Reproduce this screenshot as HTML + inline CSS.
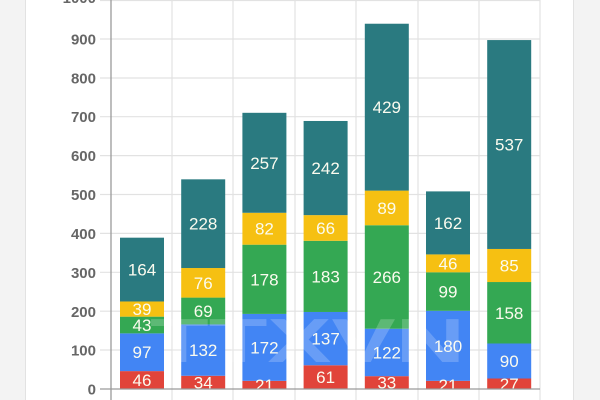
<!DOCTYPE html>
<html><head><meta charset="utf-8"><style>
html,body{margin:0;padding:0;width:600px;height:400px;overflow:hidden;background:#fff}
svg{display:block}
</style></head><body>
<svg width="600" height="400" viewBox="0 0 600 400" xmlns="http://www.w3.org/2000/svg" font-family="Liberation Sans, Arial, sans-serif">
<rect x="0" y="0" width="600" height="400" fill="#ffffff"/>
<rect x="0" y="0" width="25" height="400" fill="#f3f3f3"/>
<rect x="25" y="0" width="1" height="400" fill="#e2e2e2"/>
<rect x="574" y="0" width="26" height="400" fill="#f3f3f3"/>
<rect x="573" y="0" width="1" height="400" fill="#e2e2e2"/>
<g stroke="#e2e2e2" stroke-width="1.2">
<line x1="100" y1="0.5" x2="540" y2="0.5"/>
<line x1="100" y1="39" x2="540" y2="39"/>
<line x1="100" y1="78" x2="540" y2="78"/>
<line x1="100" y1="116.7" x2="540" y2="116.7"/>
<line x1="100" y1="155.6" x2="540" y2="155.6"/>
<line x1="100" y1="194.5" x2="540" y2="194.5"/>
<line x1="100" y1="233.4" x2="540" y2="233.4"/>
<line x1="100" y1="272.3" x2="540" y2="272.3"/>
<line x1="100" y1="311.2" x2="540" y2="311.2"/>
<line x1="100" y1="350" x2="540" y2="350"/>
<line x1="172" y1="0" x2="172" y2="400"/>
<line x1="233" y1="0" x2="233" y2="400"/>
<line x1="295" y1="0" x2="295" y2="400"/>
<line x1="356" y1="0" x2="356" y2="400"/>
<line x1="418" y1="0" x2="418" y2="400"/>
<line x1="479" y1="0" x2="479" y2="400"/>
<line x1="540" y1="0" x2="540" y2="400"/>
</g>
<line x1="111" y1="0" x2="111" y2="400" stroke="#9a9a9a" stroke-width="1.3"/>
<g font-size="15" font-weight="bold" fill="#666" text-anchor="end">
<text x="96" y="3">1000</text>
<text x="96" y="44.5">900</text>
<text x="96" y="83.5">800</text>
<text x="96" y="122">700</text>
<text x="96" y="161">600</text>
<text x="96" y="200">500</text>
<text x="96" y="239">400</text>
<text x="96" y="278">300</text>
<text x="96" y="317">200</text>
<text x="96" y="355.5">100</text>
<text x="96" y="394.5">0</text>
</g>
<defs><clipPath id="pc"><rect x="0" y="0" width="600" height="389"/></clipPath></defs>
<g clip-path="url(#pc)">
<!-- bar 1 -->
<rect x="120" y="371.11" width="44" height="17.89" fill="#e1443a"/>
<rect x="120" y="333.37" width="44" height="37.74" fill="#4285f4"/>
<rect x="120" y="316.65" width="44" height="16.72" fill="#34a853"/>
<rect x="120" y="301.48" width="44" height="15.17" fill="#f6c012"/>
<rect x="120" y="237.68" width="44" height="63.80" fill="#2a7a80"/>
<!-- bar 2 -->
<rect x="181.2" y="375.77" width="44" height="13.23" fill="#e1443a"/>
<rect x="181.2" y="324.43" width="44" height="51.34" fill="#4285f4"/>
<rect x="181.2" y="297.59" width="44" height="26.84" fill="#34a853"/>
<rect x="181.2" y="268.02" width="44" height="29.57" fill="#f6c012"/>
<rect x="181.2" y="179.33" width="44" height="88.69" fill="#2a7a80"/>
<!-- bar 3 -->
<rect x="242.4" y="380.83" width="44" height="8.17" fill="#e1443a"/>
<rect x="242.4" y="313.92" width="44" height="66.91" fill="#4285f4"/>
<rect x="242.4" y="244.68" width="44" height="69.24" fill="#34a853"/>
<rect x="242.4" y="212.78" width="44" height="31.90" fill="#f6c012"/>
<rect x="242.4" y="112.81" width="44" height="99.97" fill="#2a7a80"/>
<!-- bar 4 -->
<rect x="303.6" y="365.27" width="44" height="23.73" fill="#e1443a"/>
<rect x="303.6" y="311.98" width="44" height="53.29" fill="#4285f4"/>
<rect x="303.6" y="240.79" width="44" height="71.19" fill="#34a853"/>
<rect x="303.6" y="215.12" width="44" height="25.67" fill="#f6c012"/>
<rect x="303.6" y="120.98" width="44" height="94.14" fill="#2a7a80"/>
<!-- bar 5 -->
<rect x="364.8" y="376.16" width="44" height="12.84" fill="#e1443a"/>
<rect x="364.8" y="328.71" width="44" height="47.45" fill="#4285f4"/>
<rect x="364.8" y="225.23" width="44" height="103.48" fill="#34a853"/>
<rect x="364.8" y="190.61" width="44" height="34.62" fill="#f6c012"/>
<rect x="364.8" y="23.73" width="44" height="166.88" fill="#2a7a80"/>
<!-- bar 6 -->
<rect x="426" y="380.83" width="44" height="8.17" fill="#e1443a"/>
<rect x="426" y="310.81" width="44" height="70.02" fill="#4285f4"/>
<rect x="426" y="272.3" width="44" height="38.51" fill="#34a853"/>
<rect x="426" y="254.41" width="44" height="17.89" fill="#f6c012"/>
<rect x="426" y="191.39" width="44" height="63.02" fill="#2a7a80"/>
<!-- bar 7 -->
<rect x="487.2" y="378.50" width="44" height="10.50" fill="#e1443a"/>
<rect x="487.2" y="343.49" width="44" height="35.01" fill="#4285f4"/>
<rect x="487.2" y="282.03" width="44" height="61.46" fill="#34a853"/>
<rect x="487.2" y="248.96" width="44" height="33.07" fill="#f6c012"/>
<rect x="487.2" y="40.07" width="44" height="208.89" fill="#2a7a80"/>

<g font-size="17" fill="#fbfbef" text-anchor="middle">
<text x="142" y="386.05">46</text>
<text x="142" y="358.24">97</text>
<text x="142" y="331.01">43</text>
<text x="142" y="315.06">39</text>
<text x="142" y="275.58">164</text>

<text x="203.2" y="388.39">34</text>
<text x="203.2" y="356.10">132</text>
<text x="203.2" y="317.01">69</text>
<text x="203.2" y="288.81">76</text>
<text x="203.2" y="229.68">228</text>

<text x="264.4" y="390.92">21</text>
<text x="264.4" y="353.38">172</text>
<text x="264.4" y="285.30">178</text>
<text x="264.4" y="234.73">82</text>
<text x="264.4" y="168.80">257</text>

<text x="325.6" y="383.14">61</text>
<text x="325.6" y="344.63">137</text>
<text x="325.6" y="282.39">183</text>
<text x="325.6" y="233.96">66</text>
<text x="325.6" y="174.05">242</text>

<text x="386.8" y="388.58">33</text>
<text x="386.8" y="358.44">122</text>
<text x="386.8" y="282.97">266</text>
<text x="386.8" y="213.92">89</text>
<text x="386.8" y="113.17">429</text>

<text x="448" y="390.92">21</text>
<text x="448" y="351.82">180</text>
<text x="448" y="297.56">99</text>
<text x="448" y="269.36">46</text>
<text x="448" y="228.90">162</text>

<text x="509.2" y="389.75">27</text>
<text x="509.2" y="367.0">90</text>
<text x="509.2" y="318.76">158</text>
<text x="509.2" y="271.50">85</text>
<text x="509.2" y="150.51">537</text>
</g>
</g>
<line x1="100" y1="389" x2="540" y2="389" stroke="#9a9a9a" stroke-width="1.3"/>
<g opacity="0.2"><text x="0" y="0" font-size="62" font-weight="bold" fill="#ffffff" transform="translate(150,362) scale(1.55,1)">TTXVN</text></g>
</svg>
</body></html>
